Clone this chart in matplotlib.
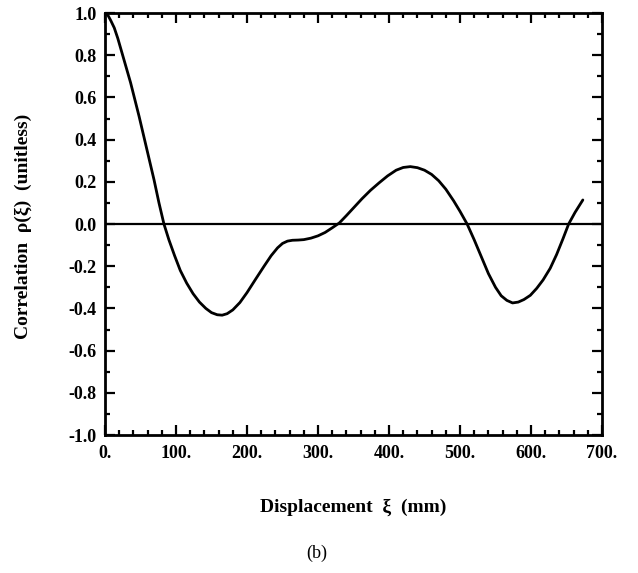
import numpy as np
import matplotlib
matplotlib.use("Agg")
import matplotlib.pyplot as plt
from matplotlib.ticker import MultipleLocator

# correlation curve
disp_mm = [0, 4, 8, 13, 18, 24, 30, 36, 42, 48, 55, 62, 69, 76, 83, 90, 98, 106,
           115, 124, 133, 142, 150, 158, 165, 172, 180, 190, 200, 212, 224, 234,
           243, 250, 257, 264, 272, 280, 290, 300, 310, 320, 330, 340, 351, 362,
           374, 386, 398, 410, 420, 430, 440, 450, 460, 470, 480, 491, 500, 510,
           520, 530, 540, 550, 558, 566, 574, 582, 590, 599, 608, 617, 627, 636,
           645, 653, 662, 673]
corr = [1.0, 0.99, 0.965, 0.93, 0.88, 0.81, 0.74, 0.67, 0.59, 0.51, 0.41, 0.31,
        0.21, 0.10, 0.0, -0.075, -0.15, -0.22, -0.28, -0.33, -0.37, -0.40, -0.42,
        -0.43, -0.432, -0.425, -0.407, -0.372, -0.325, -0.262, -0.20, -0.15,
        -0.113, -0.092, -0.081, -0.077, -0.076, -0.074, -0.067, -0.056, -0.04,
        -0.018, 0.005, 0.04, 0.08, 0.12, 0.16, 0.195, 0.228, 0.255, 0.268, 0.272,
        0.267, 0.255, 0.235, 0.205, 0.165, 0.11, 0.06, 0.0, -0.075, -0.155,
        -0.235, -0.30, -0.34, -0.362, -0.374, -0.37, -0.358, -0.338, -0.305,
        -0.265, -0.21, -0.145, -0.07, 0.0, 0.055, 0.114]

x_ticks = [0, 100, 200, 300, 400, 500, 600, 700]
x_labels = ['0.', '100.', '200.', '300.', '400.', '500.', '600.', '700.']
y_ticks = [1.0, 0.8, 0.6, 0.4, 0.2, 0.0, -0.2, -0.4, -0.6, -0.8, -1.0]
y_labels = ['%.1f' % v for v in y_ticks]

plt.rcParams['font.family'] = ['Liberation Serif', 'DejaVu Serif']
plt.rcParams['font.weight'] = 'bold'

fig = plt.figure(figsize=(6.38, 5.73), dpi=100)
ax = fig.add_axes([0.1646, 0.2408, 0.779, 0.7365])

# zero line and curve
ax.axhline(0.0, color='black', lw=1.6)
ax.plot(disp_mm, corr, color='black', lw=2.0, solid_joinstyle='round',
        solid_capstyle='round')

ax.set_xlim(0, 700)
ax.set_ylim(-1.0, 1.0)

ax.set_xticks(x_ticks)
ax.set_xticklabels(x_labels)
ax.set_yticks(y_ticks)
ax.set_yticklabels(y_labels)
ax.xaxis.set_minor_locator(MultipleLocator(20))
ax.yaxis.set_minor_locator(MultipleLocator(0.1))

ax.tick_params(which='both', direction='in', top=True, right=True, width=1.6)
ax.tick_params(which='major', length=7, labelsize=13, pad=7)
ax.tick_params(axis='y', which='major', pad=6)
ax.tick_params(which='minor', length=3.5)
for s in ax.spines.values():
    s.set_linewidth(2.0)

for lab in ax.get_xticklabels() + ax.get_yticklabels():
    lab.set_fontweight('bold')

fig.text(0.036, 0.605, u'Correlation  \u03c1(\u03be)  (unitless)', rotation=90,
         ha='center', va='center', fontsize=14, fontweight='bold')
fig.text(0.553, 1 - 507 / 573., u'Displacement  \u03be  (mm)',
         ha='center', va='center', fontsize=14, fontweight='bold')
fig.text(0.497, 1 - 553 / 573., '(b)', ha='center', va='center',
         fontsize=13, fontweight='normal')

fig.savefig('out.png', dpi=100)
